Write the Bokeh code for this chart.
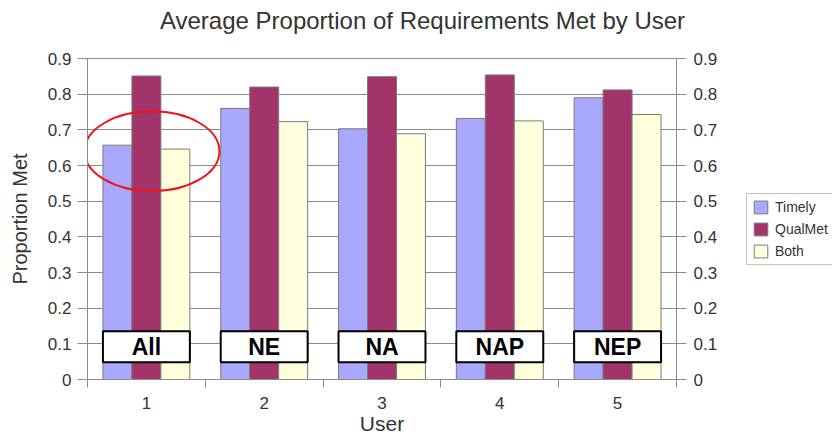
from bokeh.plotting import figure
from bokeh.layouts import row, column
from bokeh.models import (ColumnDataSource, FixedTicker, LinearAxis, Legend, LegendItem,
                          Range1d, Label)
from bokeh.transform import dodge
from bokeh.core.properties import value
from bokeh.embed import file_html
from bokeh.resources import INLINE

# ---- data ----
title_text = "Average Proportion of Requirements Met by User"
users = [1, 2, 3, 4, 5]
user_tick_labels = ["1", "2", "3", "4", "5"]
group_names = ["All", "NE", "NA", "NAP", "NEP"]
timely = [0.657, 0.760, 0.703, 0.732, 0.790]
qualmet = [0.851, 0.820, 0.849, 0.854, 0.812]
both = [0.646, 0.723, 0.689, 0.725, 0.743]
series_names = ["Timely", "QualMet", "Both"]
y_ticks = [0, 0.1, 0.2, 0.3, 0.4, 0.5, 0.6, 0.7, 0.8, 0.9]
y_tick_labels = ["0", "0.1", "0.2", "0.3", "0.4", "0.5", "0.6", "0.7", "0.8", "0.9"]
highlight_user = 1
highlight_level = 0.64

FONT = "Liberation Sans"
GRID = "#8c8c8c"
TXT = "#333333"
colors = ["#A8A8FF", "#A3336B", "#FFFFDC"]
series_fields = ["timely", "qualmet", "both"]

src = ColumnDataSource(dict(user=users, timely=timely, qualmet=qualmet, both=both,
                            name=group_names))

W = 832
TH = 40
H = 437 - TH
PW = 736


def bare(fig):
    fig.outline_line_color = None
    fig.background_fill_color = "white"
    fig.border_fill_color = "white"
    fig.xgrid.visible = False
    fig.ygrid.visible = False


# ---- title strip ----
pt = figure(width=W, height=TH, output_backend="svg", toolbar_location=None,
            x_axis_type=None, y_axis_type=None, min_border=0,
            x_range=Range1d(0, 1), y_range=Range1d(0, 1))
bare(pt)
pt.add_layout(Label(x=422, y=20, x_units="screen", y_units="screen", text=title_text,
                    text_font=FONT, text_font_size="24px", text_color=TXT,
                    text_align="center", text_baseline="middle"))

# ---- main chart ----
p = figure(width=PW, height=H, output_backend="svg", toolbar_location=None,
           x_range=Range1d(0.5, 5.5), y_range=Range1d(0, 0.9),
           min_border_left=87, min_border_right=PW - 676, min_border_top=18,
           min_border_bottom=58)
p.background_fill_color = "white"
p.border_fill_color = "white"
p.outline_line_color = GRID

bw = 0.246
renderers = []
for field, off, col in zip(series_fields, [-bw, 0, bw], colors):
    r = p.vbar(x=dodge("user", off, range=p.x_range), top=field, width=bw, source=src,
               fill_color=col, line_color="#7a7a7a", line_width=1)
    renderers.append(r)

p.xgrid.visible = False
p.ygrid.ticker = FixedTicker(ticks=y_ticks)
p.ygrid.grid_line_color = GRID
p.ygrid.grid_line_width = 1

# left axis
ya = p.yaxis[0]
ya.ticker = FixedTicker(ticks=y_ticks)
ya.major_label_overrides = {t: l for t, l in zip(y_ticks, y_tick_labels)}
ya.axis_label = "Proportion Met"
ya.axis_label_text_font = FONT
ya.axis_label_text_font_size = "20px"
ya.axis_label_text_font_style = "normal"
ya.axis_label_text_color = TXT
ya.axis_label_standoff = 14
ya.major_label_text_font = FONT
ya.major_label_text_font_size = "17px"
ya.major_label_text_color = TXT
ya.major_label_standoff = 6
ya.major_tick_out = 10
ya.major_tick_in = 0
ya.minor_tick_line_color = None
ya.axis_line_color = GRID
ya.major_tick_line_color = GRID

# right axis
ra = LinearAxis(ticker=FixedTicker(ticks=y_ticks),
                major_label_overrides={t: l for t, l in zip(y_ticks, y_tick_labels)})
ra.major_label_text_font = FONT
ra.major_label_text_font_size = "17px"
ra.major_label_text_color = TXT
ra.major_label_standoff = 7
ra.major_tick_out = 10
ra.major_tick_in = 0
ra.minor_tick_line_color = None
ra.axis_line_color = GRID
ra.major_tick_line_color = GRID
p.add_layout(ra, "right")

# bottom axis
xa = p.xaxis[0]
bounds = [u - 0.5 for u in users] + [users[-1] + 0.5]
xa.ticker = FixedTicker(ticks=users, minor_ticks=bounds)
xa.major_label_overrides = {u: l for u, l in zip(users, user_tick_labels)}
xa.major_tick_line_color = None
xa.major_tick_out = 8
xa.major_tick_in = 0
xa.minor_tick_out = 8
xa.minor_tick_in = 0
xa.minor_tick_line_color = GRID
xa.axis_line_color = GRID
xa.major_label_text_font = FONT
xa.major_label_text_font_size = "17px"
xa.major_label_text_color = TXT
xa.major_label_standoff = 9
xa.axis_label = "User"
xa.axis_label_text_font = FONT
xa.axis_label_text_font_size = "21px"
xa.axis_label_text_font_style = "normal"
xa.axis_label_text_color = TXT
xa.axis_label_standoff = 0

# group label boxes
box_half = 1.5 * bw
p.quad(left=dodge("user", -box_half, range=p.x_range),
       right=dodge("user", box_half, range=p.x_range),
       bottom=0.0485, top=0.135, source=src,
       fill_color="white", line_color="black", line_width=2)
p.text(x="user", y=0.092, text="name", source=src,
       text_font=value(FONT), text_font_style="bold", text_font_size="23px",
       text_align="center", text_baseline="middle", text_color="black")

# highlight ellipse
p.ellipse(x=[highlight_user + 0.047], y=[highlight_level], width=1.146, height=0.224,
          fill_color=None, line_color="#EE1515", line_width=2)

# ---- legend strip (same series, drawn outside its visible ranges) ----
pl = figure(width=W - PW, height=H, output_backend="svg", toolbar_location=None,
            x_axis_type=None, y_axis_type=None, min_border=0,
            x_range=Range1d(-101, -100), y_range=Range1d(-101, -100))
bare(pl)
leg_renderers = []
for field, col in zip(series_fields, colors):
    leg_renderers.append(pl.vbar(x="user", top=field, width=bw, source=src,
                                 fill_color=col, line_color="#7a7a7a", line_width=1))

legend = Legend(items=[LegendItem(label=n, renderers=[r]) for n, r in zip(series_names, leg_renderers)],
                location=(10, 114))
legend.label_text_font = FONT
legend.label_text_font_size = "14px"
legend.label_text_color = TXT
legend.glyph_width = 17
legend.glyph_height = 16
legend.label_height = 16
legend.label_standoff = 6
legend.spacing = 6
legend.padding = 5
legend.margin = 0
legend.border_line_color = "#8a8a8a"
legend.border_line_width = 1
legend.background_fill_color = "white"
pl.add_layout(legend, "center")

layout = column(pt, row(p, pl))
open("out.html", "w").write(file_html(layout, INLINE))
